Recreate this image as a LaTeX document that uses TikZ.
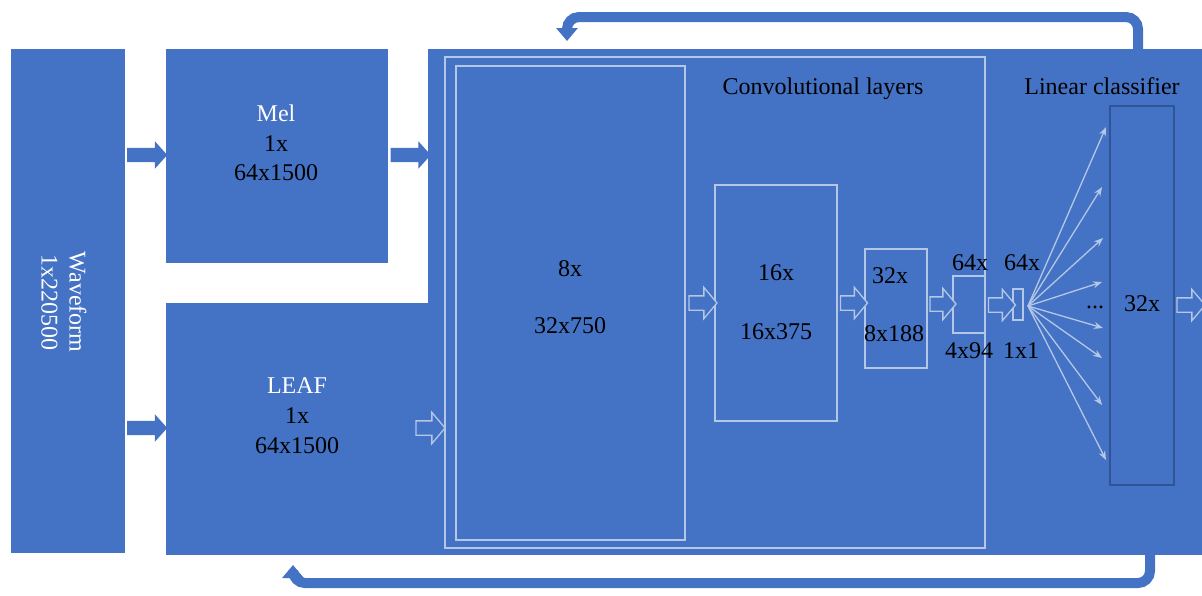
\documentclass[tikz,border=0pt]{standalone}
\usepackage{fontspec}
\setmainfont{Liberation Serif}
\usetikzlibrary{shapes.arrows,arrows.meta}
\definecolor{bluefill}{HTML}{4472C4}
\definecolor{lightline}{HTML}{B4C7E7}
\definecolor{darkline}{HTML}{2F5597}
\begin{document}
\begin{tikzpicture}[x=1pt,y=-1pt,
  blk/.style={fill=bluefill, draw=none, anchor=north west, inner sep=0pt, outer sep=0pt},
  frm/.style={draw=lightline, line width=1.3pt, anchor=north west, inner sep=0pt, outer sep=0pt},
  lbl/.style={font=\fontsize{24}{28.8}\selectfont, text height=16.5pt, text depth=0pt, inner sep=0pt},
  hollow/.style={single arrow, draw=lightline, fill=bluefill, line width=1.3pt, inner sep=0pt,
    text height=6.5pt, text depth=6.5pt, single arrow head extend=8.5pt,
    single arrow tip angle=100, minimum height=#1},
  solidarr/.style={single arrow, fill=bluefill, draw=none, inner sep=0pt,
    text height=7pt, text depth=7pt, single arrow head extend=6.5pt,
    single arrow tip angle=96, minimum height=#1},
  fan/.style={draw=lightline, line width=1.3pt, -{Stealth[length=9pt,width=7pt]}},
  loopline/.style={draw=bluefill, line width=10pt, rounded corners=12pt, -{Triangle[width=21pt,length=13pt]}}
]
\useasboundingbox (0,0) rectangle (1202,595);

% main blocks
\node[blk, minimum width=774pt, minimum height=506pt] (big) at (428,49) {};
\node[blk, minimum width=262pt, minimum height=252pt] (leaf) at (166,303) {};
\node[blk, minimum width=222pt, minimum height=214pt] (mel) at (166,49) {};
\node[blk, minimum width=114pt, minimum height=504pt] (wave) at (11,49) {};

% frames
\node[frm, minimum width=540pt, minimum height=491pt] (conv) at (445,57) {};
\node[frm, minimum width=229pt, minimum height=474pt] (b8) at (456,66) {};
\node[frm, minimum width=122pt, minimum height=236pt] (b16) at (715,185) {};
\node[frm, minimum width=62pt, minimum height=119pt] (b32) at (865,249) {};
\node[frm, minimum width=32pt, minimum height=57pt] (b64) at (953,276) {};
\node[frm, minimum width=10pt, minimum height=31pt] (b1) at (1013,289) {};
\node[blk, draw=darkline, line width=1.3pt, minimum width=64pt, minimum height=379pt] (tall) at (1110,106) {};

% solid arrows
\node[solidarr=40pt] (a1) at (144,155) {};
\node[solidarr=40pt] (a2) at (144,428) {};
\node[solidarr=40pt] (a3) at (407.5,155) {};

% hollow arrows
\node[hollow=29pt] (h1) at (427.5,428) {};
\node[hollow=28pt] (h2) at (700,303) {};
\node[hollow=27pt] (h3) at (851,303) {};
\node[hollow=26pt] (h4) at (940,304) {};
\node[hollow=27pt] (h5) at (999,305) {};
\node[hollow=28pt] (h6) at (1188,305) {};

% fan
\coordinate (fo) at (1028,306);
\coordinate (t1) at (1106,127);
\coordinate (t2) at (1102,187);
\coordinate (t3) at (1103,238);
\coordinate (t4) at (1102,282);
\coordinate (t5) at (1103,328);
\coordinate (t6) at (1102,358);
\coordinate (t7) at (1102,405);
\coordinate (t8) at (1106,460);
\foreach \i in {1,...,8} \draw[fan] (fo) -- (t\i);

% loops
\coordinate (ts) at (1138,49);
\coordinate (te) at (567,41);
\draw[loopline] (ts) -- (1138,17) -| (te);
\coordinate (bs) at (1150,555);
\coordinate (be) at (293,565);
\draw[loopline] (bs) -- (1150,583) -| (be);

% labels
\node[font=\fontsize{24}{28}\selectfont, text=white, align=center, rotate=-90, inner sep=0pt] (wl) at (64,302) {Waveform\\1x220500};
\node[lbl, text=white] (m1) at (276,113) {Mel};
\node[lbl] (m2) at (276,143) {1x};
\node[lbl] (m3) at (276,172) {64x1500};
\node[lbl, text=white] (l1) at (297,385) {LEAF};
\node[lbl] (l2) at (297,415) {1x};
\node[lbl] (l3) at (297,445) {64x1500};
\node[lbl] (c8a) at (570,268) {8x};
\node[lbl] (c8b) at (570,325) {32x750};
\node[lbl] (c16a) at (776,272) {16x};
\node[lbl] (c16b) at (776,331) {16x375};
\node[lbl] (c32a) at (890,275) {32x};
\node[lbl] (c32b) at (894,333) {8x188};
\node[lbl] (c64a) at (970,262) {64x};
\node[lbl] (c64b) at (969,350) {4x94};
\node[lbl] (c1a) at (1022,262) {64x};
\node[lbl] (c1b) at (1021,350) {1x1};
\node[lbl] (dots) at (1095,300) {...};
\node[lbl] (o32) at (1142,303) {32x};
\node[lbl] (convt) at (823,86) {Convolutional layers};
\node[lbl] (lint) at (1102,86) {Linear classifier};
\end{tikzpicture}
\end{document}
